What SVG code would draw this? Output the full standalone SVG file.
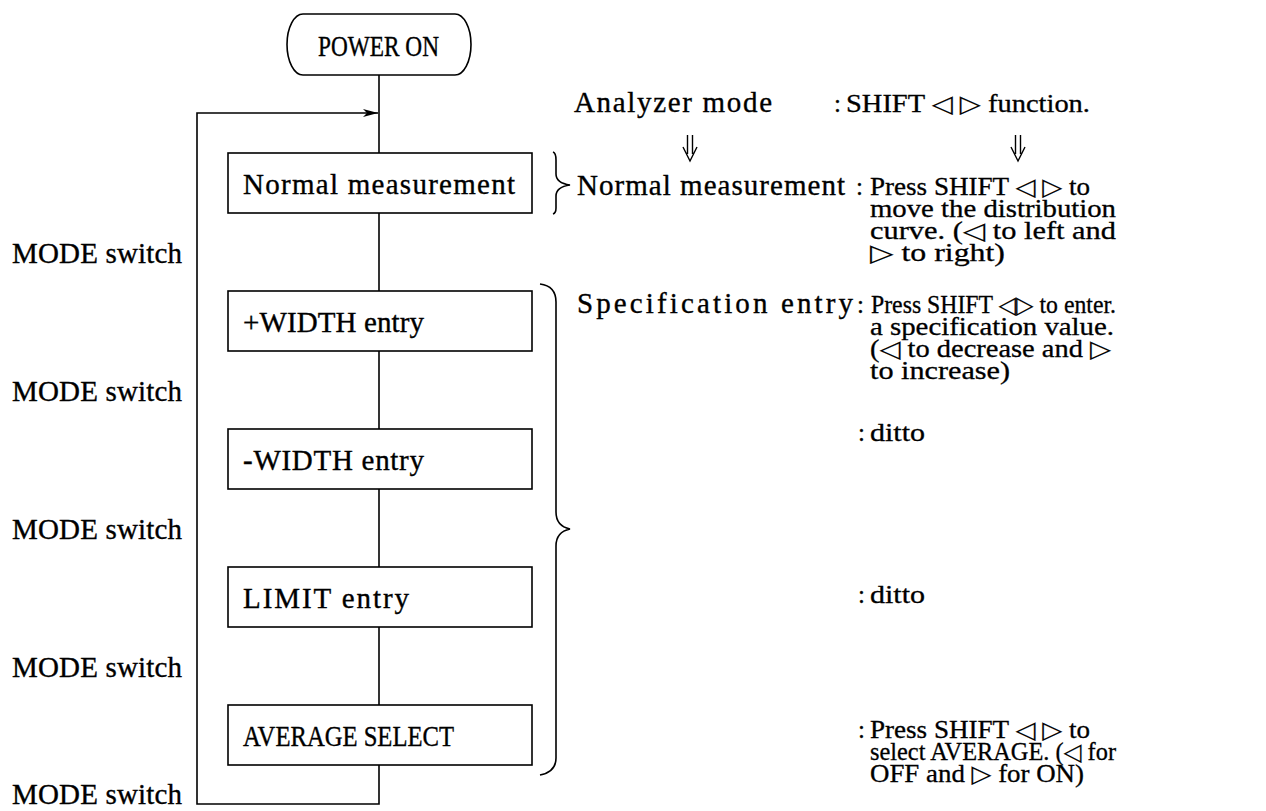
<svg xmlns="http://www.w3.org/2000/svg" width="1266" height="811" viewBox="0 0 1266 811">
<defs>
<style>
.ln{fill:none;stroke:#000;stroke-width:1.6}
.bx{fill:#fff;stroke:#000;stroke-width:1.6}
.mono{font-family:"Liberation Serif","DejaVu Serif",serif;font-size:29px;fill:#000;stroke:#000;stroke-width:0.35}
.ser{font-family:"Liberation Serif","DejaVu Serif","DejaVu Sans",serif;font-size:25px;fill:#000;stroke:#000;stroke-width:0.3}
.tri{font-family:"DejaVu Sans",sans-serif;font-size:24px;stroke-width:0.2}
.dar{fill:none;stroke:#000;stroke-width:1.4}
</style>
<marker id="ah" markerUnits="userSpaceOnUse" markerWidth="16" markerHeight="10" refX="15" refY="4" orient="auto">
<path d="M0,0 L15,4 L0,8 L4,4 z" fill="#000"/>
</marker>
</defs>
<rect width="1266" height="811" fill="#fff"/>

<g id="connectors">
<line class="ln" x1="379" y1="75" x2="379" y2="153"/>
<line class="ln" x1="379" y1="213" x2="379" y2="291"/>
<line class="ln" x1="379" y1="351" x2="379" y2="429"/>
<line class="ln" x1="379" y1="489" x2="379" y2="567"/>
<line class="ln" x1="379" y1="627" x2="379" y2="705"/>
<path class="ln" d="M379,765 V804 H197 V113 H378" marker-end="url(#ah)"/>
</g>

<g id="power-on">
<path class="bx" d="M303,14 H455 A16 30.5 0 0 1 455,75 H303 A16 30.5 0 0 1 303,14 Z"/>
<text class="mono" x="318" y="56" textLength="121" lengthAdjust="spacingAndGlyphs">POWER ON</text>
</g>

<g id="normal-measurement">
<rect class="bx" x="228" y="153" width="304" height="60"/>
<text class="mono" x="243" y="194" textLength="272" lengthAdjust="spacing">Normal measurement</text>
</g>
<g id="plus-width">
<rect class="bx" x="228" y="291" width="304" height="60"/>
<text class="mono" x="243" y="332" textLength="181" lengthAdjust="spacing">+WIDTH entry</text>
</g>
<g id="minus-width">
<rect class="bx" x="228" y="429" width="304" height="60"/>
<text class="mono" x="243" y="470" textLength="181" lengthAdjust="spacing">-WIDTH entry</text>
</g>
<g id="limit-entry">
<rect class="bx" x="228" y="567" width="304" height="60"/>
<text class="mono" x="243" y="608" textLength="166" lengthAdjust="spacing">LIMIT entry</text>
</g>
<g id="average-select">
<rect class="bx" x="228" y="705" width="304" height="60"/>
<text class="mono" x="243" y="746" textLength="211" lengthAdjust="spacingAndGlyphs">AVERAGE SELECT</text>
</g>

<g id="mode-labels">
<text class="mono" x="12" y="263" textLength="170" lengthAdjust="spacing">MODE switch</text>
<text class="mono" x="12" y="401" textLength="170" lengthAdjust="spacing">MODE switch</text>
<text class="mono" x="12" y="539" textLength="170" lengthAdjust="spacing">MODE switch</text>
<text class="mono" x="12" y="677" textLength="170" lengthAdjust="spacing">MODE switch</text>
<text class="mono" x="12" y="804" textLength="170" lengthAdjust="spacing">MODE switch</text>
</g>

<g id="braces">
<path class="ln" d="M553,152 Q556,153 556,160 V174 Q556,183 570,185 Q556,187 556,196 V208 Q556,213 553,214"/>
<path class="ln" d="M540,284 Q556,286 556,302 V512 Q556,526 570,529 Q556,532 556,546 V758 Q556,772 540,775"/>
</g>

<g id="double-arrows">
<path class="dar" d="M687.5,135 V154 M692.5,135 V154 M683,147 L690,161 L697,147"/>
<path class="dar" d="M1015.5,135 V154 M1020.5,135 V154 M1011,147 L1018,161 L1025,147"/>
</g>

<g id="notes">
<text class="mono" x="574" y="112" textLength="198" lengthAdjust="spacing">Analyzer mode</text>
<text class="ser" x="834" y="112">:</text>
<text class="ser" x="846" y="112" textLength="244" lengthAdjust="spacingAndGlyphs">SHIFT <tspan class="tri">◁</tspan> <tspan class="tri">▷</tspan> function.</text>

<text class="mono" x="577" y="195" textLength="268" lengthAdjust="spacing">Normal measurement</text>
<text class="ser" x="856" y="195">:</text>
<text class="ser" x="870" y="195" textLength="220" lengthAdjust="spacingAndGlyphs">Press SHIFT <tspan class="tri">◁</tspan> <tspan class="tri">▷</tspan> to</text>
<text class="ser" x="870" y="217" textLength="246" lengthAdjust="spacingAndGlyphs">move the distribution</text>
<text class="ser" x="870" y="239" textLength="246" lengthAdjust="spacingAndGlyphs">curve. (<tspan class="tri">◁</tspan> to left and</text>
<text class="ser" x="870" y="261" textLength="135" lengthAdjust="spacingAndGlyphs"><tspan class="tri">▷</tspan> to right)</text>

<text class="mono" x="577" y="313" textLength="276" lengthAdjust="spacing">Specification entry</text>
<text class="ser" x="857" y="313">:</text>
<text class="ser" x="871" y="313" textLength="245" lengthAdjust="spacingAndGlyphs">Press SHIFT <tspan class="tri">◁▷</tspan> to enter.</text>
<text class="ser" x="870" y="335" textLength="244" lengthAdjust="spacingAndGlyphs">a specification value.</text>
<text class="ser" x="870" y="357" textLength="241" lengthAdjust="spacingAndGlyphs">(<tspan class="tri">◁</tspan> to decrease and <tspan class="tri">▷</tspan></text>
<text class="ser" x="870" y="379" textLength="140" lengthAdjust="spacingAndGlyphs">to increase)</text>

<text class="ser" x="858" y="441">:</text>
<text class="ser" x="870" y="441" textLength="55" lengthAdjust="spacingAndGlyphs">ditto</text>

<text class="ser" x="858" y="603">:</text>
<text class="ser" x="870" y="603" textLength="55" lengthAdjust="spacingAndGlyphs">ditto</text>

<text class="ser" x="858" y="738">:</text>
<text class="ser" x="870" y="738" textLength="220" lengthAdjust="spacingAndGlyphs">Press SHIFT <tspan class="tri">◁</tspan> <tspan class="tri">▷</tspan> to</text>
<text class="ser" x="870" y="760" textLength="246" lengthAdjust="spacingAndGlyphs">select AVERAGE. (<tspan class="tri">◁</tspan> for</text>
<text class="ser" x="870" y="782" textLength="214" lengthAdjust="spacingAndGlyphs">OFF and <tspan class="tri">▷</tspan> for ON)</text>
</g>
</svg>
